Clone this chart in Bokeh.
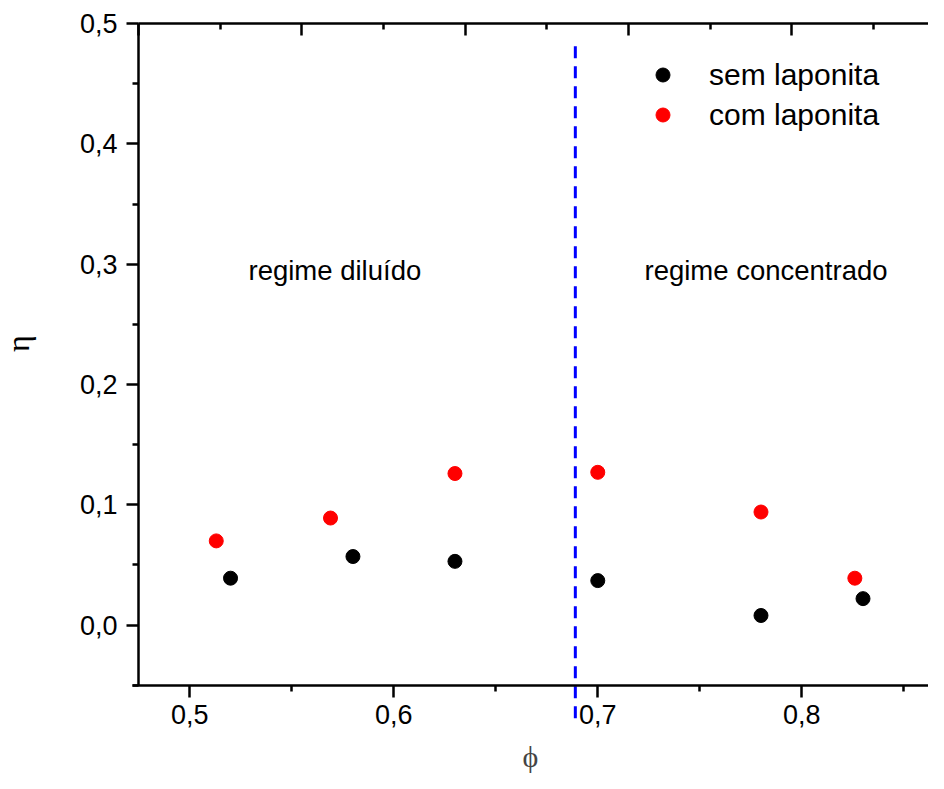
import math
from bokeh.plotting import figure
from bokeh.models import Range1d, LinearAxis, FixedTicker, CustomJSTickFormatter, Label
from bokeh.embed import file_html
from bokeh.resources import INLINE

# ---- data ----
phi_sem = [0.520, 0.580, 0.630, 0.700, 0.780, 0.830]
eta_sem = [0.039, 0.057, 0.053, 0.037, 0.008, 0.022]
phi_com = [0.513, 0.569, 0.630, 0.700, 0.780, 0.826]
eta_com = [0.070, 0.089, 0.126, 0.127, 0.094, 0.039]
phi_transition = 0.689
transition_span = [-0.0775, 0.4867]
series_names = ["sem laponita", "com laponita"]
region_names = ["regime diluído", "regime concentrado"]
x_major = [0.5, 0.6, 0.7, 0.8]
x_minor = [0.55, 0.65, 0.75, 0.85]
y_major = [0.0, 0.1, 0.2, 0.3, 0.4, 0.5]
y_minor = [-0.05, 0.05, 0.15, 0.25, 0.35, 0.45]
top_major = [0, 1, 2, 3, 4]
top_minor = [0.5, 1.5, 2.5, 3.5, 4.5]
x_axis_left = 0.4749     # where the η axis sits
x_view_end = 0.8621
y_axis_bottom = -0.05    # where the ϕ axis sits
y_axis_top = 0.5

FONT = "Liberation Sans"
LW = 2.5
PX_PER_X = 2040.0
PX_PER_Y = 1200.0
y_view_end = y_axis_top + 23 / PX_PER_Y
y_view_start = y_view_end - 771 / PX_PER_Y

p = figure(width=928, height=773, output_backend="svg", toolbar_location=None,
           x_range=Range1d(x_axis_left - 138 / PX_PER_X, x_view_end),
           y_range=Range1d(y_view_start, y_view_end),
           min_border_left=0, min_border_right=0, min_border_top=0, min_border_bottom=0)
p.outline_line_color = None
p.grid.visible = False
p.background_fill_color = "white"
p.border_fill_color = "white"

fmt = CustomJSTickFormatter(code="return tick.toFixed(1).replace('.', ',');")
blank = CustomJSTickFormatter(code="return '';")

def style_axis(ax):
    ax.axis_line_width = LW
    ax.axis_line_color = "black"
    ax.major_tick_line_width = LW
    ax.minor_tick_line_width = LW
    ax.major_tick_line_color = "black"
    ax.minor_tick_line_color = "black"
    ax.major_label_text_font = FONT
    ax.major_label_text_color = "black"

xa = p.xaxis[0]
style_axis(xa)
xa.fixed_location = y_axis_bottom
xa.bounds = (x_axis_left - 6 / PX_PER_X, x_view_end)
xa.ticker = FixedTicker(ticks=x_major, minor_ticks=x_minor)
xa.formatter = fmt
xa.major_tick_out = 12
xa.major_tick_in = 0
xa.minor_tick_out = 6
xa.minor_tick_in = 0
xa.major_label_text_font_size = "27px"
xa.major_label_standoff = 8
xa.axis_label = "ϕ"
xa.axis_label_text_font = "Liberation Serif"
xa.axis_label_text_font_style = "normal"
xa.axis_label_text_font_size = "30px"
xa.axis_label_standoff = 12

ya = p.yaxis[0]
style_axis(ya)
ya.fixed_location = x_axis_left
ya.bounds = (y_axis_bottom, y_axis_top)
ya.ticker = FixedTicker(ticks=y_major, minor_ticks=y_minor)
ya.formatter = fmt
ya.major_tick_out = 12
ya.major_tick_in = 0
ya.minor_tick_out = 6
ya.minor_tick_in = 0
ya.major_label_text_font_size = "27px"
ya.major_label_standoff = 9

# top axis (second layer scale, ticks only)
p.extra_x_ranges = {"top": Range1d(-138 / 163.3, 790 / 163.3)}
ta = LinearAxis(x_range_name="top", ticker=FixedTicker(ticks=top_major, minor_ticks=top_minor),
                formatter=blank, bounds=(0, 790 / 163.3), fixed_location=y_axis_top)
style_axis(ta)
ta.major_tick_in = 12
ta.major_tick_out = 0
ta.minor_tick_in = 6
ta.minor_tick_out = 0
ta.major_label_standoff = 0
p.add_layout(ta, "above")

# transition line
p.segment(x0=[phi_transition], y0=[transition_span[0]], x1=[phi_transition], y1=[transition_span[1]],
          line_color="#0000ff", line_width=3, line_dash="12 8")

p.scatter(phi_sem, eta_sem, size=14, color="black", legend_label=series_names[0])
p.scatter(phi_com, eta_com, size=14, color="#ff0000", legend_label=series_names[1])

p.add_layout(Label(x=0.5288, y=0.295, text=region_names[0], text_font=FONT,
                   text_font_size="27.5px", text_color="black", text_baseline="alphabetic"))
p.add_layout(Label(x=0.7229, y=0.295, text=region_names[1], text_font=FONT,
                   text_font_size="27.5px", text_color="black", text_baseline="alphabetic"))

# y axis title
p.add_layout(Label(x=x_axis_left - 121 / PX_PER_X, y=0.234, text="η", angle=math.pi / 2,
                   text_font="Liberation Serif", text_font_size="32px", text_color="black",
                   text_align="center", text_baseline="middle"))

lg = p.legend[0]
lg.location = (645, 641)
lg.padding = 0
lg.margin = 0
lg.border_line_color = None
lg.background_fill_alpha = 0
lg.label_standoff = 29
lg.glyph_width = 35
lg.glyph_height = 35
lg.label_height = 35
lg.spacing = 5
lg.label_text_font = FONT
lg.label_text_font_size = "30px"
lg.label_text_color = "black"

open("out.html", "w").write(file_html(p, INLINE))
